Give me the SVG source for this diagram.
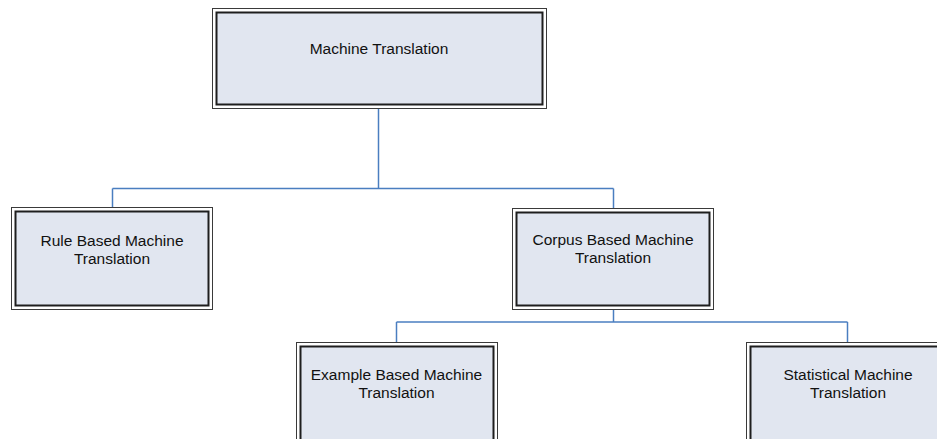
<svg xmlns="http://www.w3.org/2000/svg" width="937" height="439" viewBox="0 0 937 439">
  <style>
    .outer { fill: #ffffff; stroke: #3a3a3a; stroke-width: 1; }
    .inner { fill: #E1E6F0; stroke: #1e1e1e; stroke-width: 2; }
    .label { font-family: "Liberation Sans", Arial, sans-serif; font-size: 15.5px; fill: #111111; text-anchor: middle; }
    .conn { fill: none; stroke: #4A7EC0; stroke-width: 1.5; }
  </style>
  <rect width="937" height="439" fill="#ffffff"/>

  <!-- connectors -->
  <g id="connectors" class="conn">
    <path d="M378.5 109 V188.5"/>
    <path d="M112.5 188.5 H613.5"/>
    <path d="M112.5 188.5 V208"/>
    <path d="M613.5 188.5 V209"/>
    <path d="M613.5 310 V322"/>
    <path d="M396.5 322 H847.5"/>
    <path d="M396.5 322 V342"/>
    <path d="M847.5 322 V342"/>
  </g>

  <g id="machine-translation">
    <rect class="outer" x="212.5" y="8.5" width="334" height="100"/>
    <rect class="inner" x="216.5" y="12.5" width="326" height="92"/>
    <text class="label" x="379" y="54">Machine Translation</text>
  </g>

  <g id="rule-based">
    <rect class="outer" x="11.5" y="207.5" width="201" height="102"/>
    <rect class="inner" x="15.5" y="211.5" width="193" height="94"/>
    <text class="label" x="112" y="246">Rule Based Machine</text>
    <text class="label" x="112" y="264">Translation</text>
  </g>

  <g id="corpus-based">
    <rect class="outer" x="512.5" y="208.5" width="201" height="101"/>
    <rect class="inner" x="516.5" y="212.5" width="193" height="93"/>
    <text class="label" x="613" y="245">Corpus Based Machine</text>
    <text class="label" x="613" y="263">Translation</text>
  </g>

  <g id="example-based">
    <rect class="outer" x="296.5" y="342.5" width="201" height="120"/>
    <rect class="inner" x="300.5" y="346.5" width="193" height="112"/>
    <text class="label" x="396.5" y="380">Example Based Machine</text>
    <text class="label" x="396.5" y="398">Translation</text>
  </g>

  <g id="statistical">
    <rect class="outer" x="746.5" y="342.5" width="201" height="120"/>
    <rect class="inner" x="750.5" y="346.5" width="193" height="112"/>
    <text class="label" x="848" y="380">Statistical Machine</text>
    <text class="label" x="848" y="398">Translation</text>
  </g>
</svg>
